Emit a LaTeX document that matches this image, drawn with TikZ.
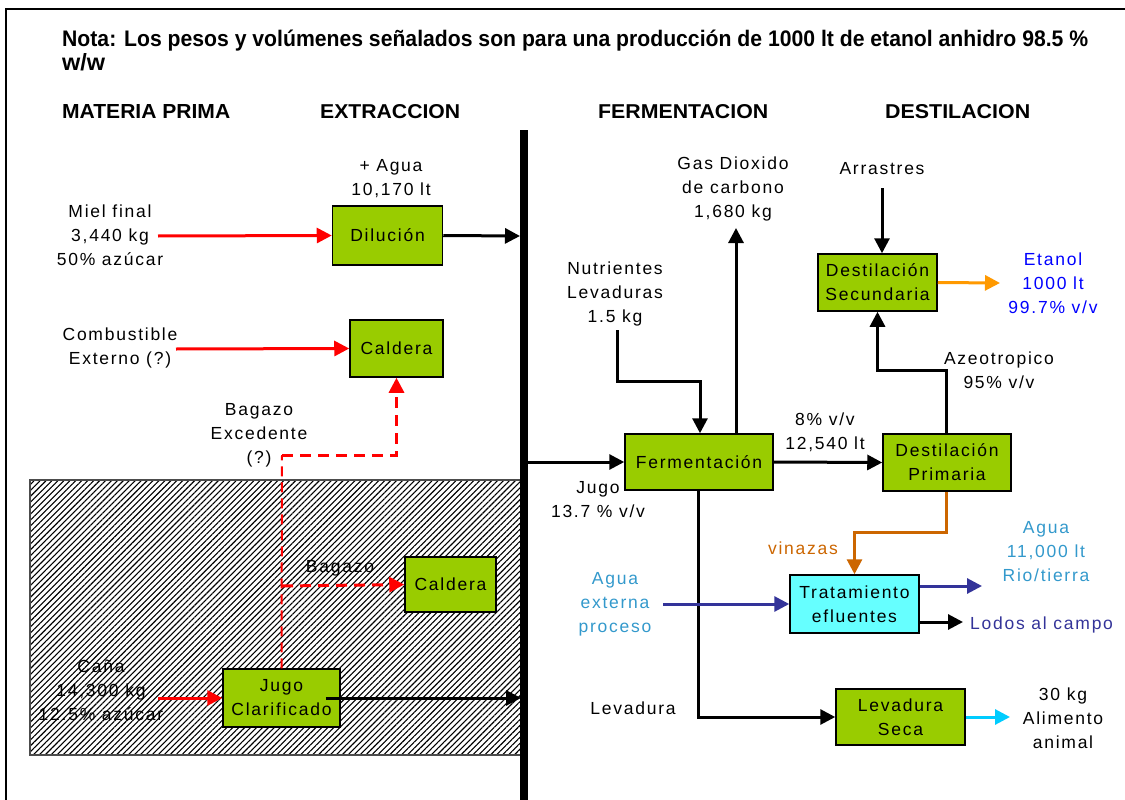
\documentclass[tikz,border=0pt]{standalone}
\usepackage{fontspec}
\setmainfont{Liberation Sans}[LetterSpace=10]
\newfontfamily\hfont{Liberation Sans Bold}
\usetikzlibrary{arrows.meta,patterns.meta,calc}
\definecolor{boxgreen}{HTML}{99CC00}
\definecolor{boxcyan}{HTML}{66FFFF}
\definecolor{redc}{HTML}{FF0000}
\definecolor{orangec}{HTML}{FF9900}
\definecolor{vinc}{HTML}{CC6600}
\definecolor{indigoc}{HTML}{333399}
\definecolor{aguac}{HTML}{3399CC}
\definecolor{etac}{HTML}{0000FF}
\definecolor{skyc}{HTML}{00CCFF}
\begin{document}
\begin{tikzpicture}[x=1pt,y=-1pt,
  txt/.style={align=center,inner sep=0pt,font=\fontsize{17.5}{24}\selectfont},
  gbox/.style={draw=black,line width=1.5pt,fill=boxgreen,align=center,inner sep=0pt,
     font=\fontsize{17.5}{24}\selectfont},
  arr/.style={line width=3pt,-{Triangle[length=15pt,width=15pt]}},
  flow/.style={arr,draw=black},
  redflow/.style={arr,draw=redc},
  reddash/.style={arr,draw=redc,dash pattern=on 11pt off 7pt},
]
\useasboundingbox (0,0) rectangle (1125,800);
\fill[white] (0,0) rectangle (1125,800);
% frame
\draw[line width=2pt] (6,800) -- (6,9) -- (1125,9);
% hatched area
\fill[pattern={Lines[angle=45,distance=4.2pt,line width=1.1pt]}] (30,480) rectangle (524,755);
\draw[line width=1.2pt,black!70] (524,480) -- (30,480) -- (30,755) -- (524,755);
% main bar
\fill[black] (520,130) rectangle (528,800);
% title
\node[anchor=base west,inner sep=0pt] (nota) at (62,47)
  {\resizebox{1026pt}{16.5pt}{\hfont Nota: Los pesos y volúmenes señalados son para una producción de 1000 lt de etanol anhidro 98.5 \%}};
\node[anchor=base west,inner sep=0pt] (ww) at (62,71) {\resizebox{43pt}{!}{\hfont\fontsize{19}{19}\selectfont w/w}};
\node[anchor=north west,inner sep=0pt] (h1) at (62,104) {\resizebox{168pt}{14pt}{\hfont MATERIA PRIMA}};
\node[anchor=north west,inner sep=0pt] (h2) at (320,104) {\resizebox{140pt}{14pt}{\hfont EXTRACCION}};
\node[anchor=north west,inner sep=0pt] (h3) at (598,104) {\resizebox{170pt}{14pt}{\hfont FERMENTACION}};
\node[anchor=north west,inner sep=0pt] (h4) at (885,104) {\resizebox{145pt}{14pt}{\hfont DESTILACION}};
% boxes
\node[gbox,minimum width=110pt,minimum height=59pt] (dil) at (387.5,235.5) {Dilución};
\node[gbox,minimum width=93pt,minimum height=57pt] (cal1) at (396.5,348.5) {Caldera};
\node[gbox,minimum width=91pt,minimum height=55pt] (cal2) at (450.5,584.5) {Caldera};
\node[gbox,minimum width=117pt,minimum height=58pt] (jc) at (281.5,698) {Jugo\\Clarificado};
\node[gbox,minimum width=148pt,minimum height=56pt] (fer) at (699,462) {Fermentación};
\node[gbox,minimum width=128pt,minimum height=57pt] (dp) at (947,462.5) {Destilación\\Primaria};
\node[gbox,minimum width=119pt,minimum height=57pt] (ds) at (877.5,282.5) {Destilación\\Secundaria};
\node[gbox,fill=boxcyan,minimum width=129pt,minimum height=58pt] (trat) at (854.5,604) {Tratamiento\\efluentes};
\node[gbox,minimum width=129pt,minimum height=56pt] (ls) at (900.5,717) {Levadura\\Seca};
% texts
\node[txt] (tmiel) at (110,235) {Miel final\\3,440 kg\\50\% azúcar};
\node[txt] (tagua) at (391,179) {+ Agua\\10,170 lt};
\node[txt] (tcomb) at (120,348) {Combustible\\Externo (?)};
\node[txt] (tbagx) at (259,435) {Bagazo\\Excedente\\(?)};
\node[txt] (tbag) at (340,568) {Bagazo};
\node[txt] (tcana) at (101,690) {Caña\\14,300 kg\\12.5\% azúcar};
\node[txt] (tjugo) at (598,500) {Jugo\\13.7 \% v/v};
\node[txt] (tgas) at (733,189) {Gas Dioxido\\de carbono\\1,680 kg};
\node[txt] (tnut) at (615,294) {Nutrientes\\Levaduras\\1.5 kg};
\node[txt] (tarr) at (882,169) {Arrastres};
\node[txt,text=etac] (teta) at (1053,283) {Etanol\\1000 lt\\99.7\% v/v};
\node[txt] (tazeo) at (999,370) {Azeotropico\\95\% v/v};
\node[txt] (tvv) at (825,432) {8\% v/v\\12,540 lt};
\node[txt,text=vinc] (tvin) at (803,548) {vinazas};
\node[txt,text=aguac] (taguo) at (1046,552) {Agua\\11,000 lt\\Rio/tierra};
\node[txt,text=aguac] (tagx) at (615,604) {Agua\\externa\\proceso};
\node[txt,text=indigoc,anchor=west] (tlod) at (970,625) {Lodos al campo};
\node[txt] (tlev) at (633,708) {Levadura};
\node[txt] (tali) at (1063,718) {30 kg\\Alimento\\animal};
% coordinates
\coordinate (miel) at (158,236);
\coordinate (bar1) at (520,236);
\coordinate (comb) at (176,349);
\coordinate (bx) at (282,455);
\coordinate (bb) at (282,586);
\coordinate (cana) at (158,698);
\coordinate (bar2) at (521,698);
\coordinate (bar3) at (528,462);
\coordinate (nut) at (617,330);
\coordinate (nutk) at (700,381);
\coordinate (co2) at (736,228);
\coordinate (arr) at (882,188);
\coordinate (eta) at (1000,283);
\coordinate (aguax) at (663,604);
\coordinate (aguao) at (982,586);
\coordinate (lodo) at (963,622);
\coordinate (ali) at (1010,717);
% connectors left
\draw[redflow] (miel) -- (dil.west);
\draw[flow] (dil.east) -- (bar1);
\draw[redflow] (comb) -- (cal1.west);
\draw[redc,line width=2pt,dash pattern=on 10pt off 6pt] (jc.north) -- (bx);
\draw[reddash] (bx) -| (cal1.south);
\draw[reddash] (bb) -- (cal2.west);
\draw[redflow] (cana) -- (jc.west);
\draw[flow] ([xshift=-15pt]jc.east) -- (bar2);
% connectors right
\draw[flow] (bar3) -- (fer.west);
\draw[flow] (nut) |- (nutk) -- (fer.north -| nutk);
\draw[flow] (fer.north -| co2) -- (co2);
\draw[flow] (fer.east) -- (dp.west);
\draw[flow] ([xshift=-1pt]dp.north) |- ($(ds.south)+(0,59)$) -- (ds.south);
\draw[flow] (arr) -- (ds.north -| arr);
\draw[arr,draw=orangec] (ds.east) -- (eta);
\draw[line width=3pt,vinc,-{Triangle[length=15pt,width=15pt]}] ([xshift=-1pt]dp.south) |- ($(trat.north)+(0,-42)$) -- (trat.north);
\draw[flow] ([xshift=-1pt]fer.south) |- (ls.west);
\draw[arr,draw=indigoc] (aguax) -- (trat.west);
\draw[arr,draw=indigoc] ([yshift=18pt]trat.east) -- (aguao);
\draw[flow] ([yshift=-18pt]trat.east) -- (lodo);
\draw[arr,draw=skyc] (ls.east) -- (ali);
\end{tikzpicture}
\end{document}
